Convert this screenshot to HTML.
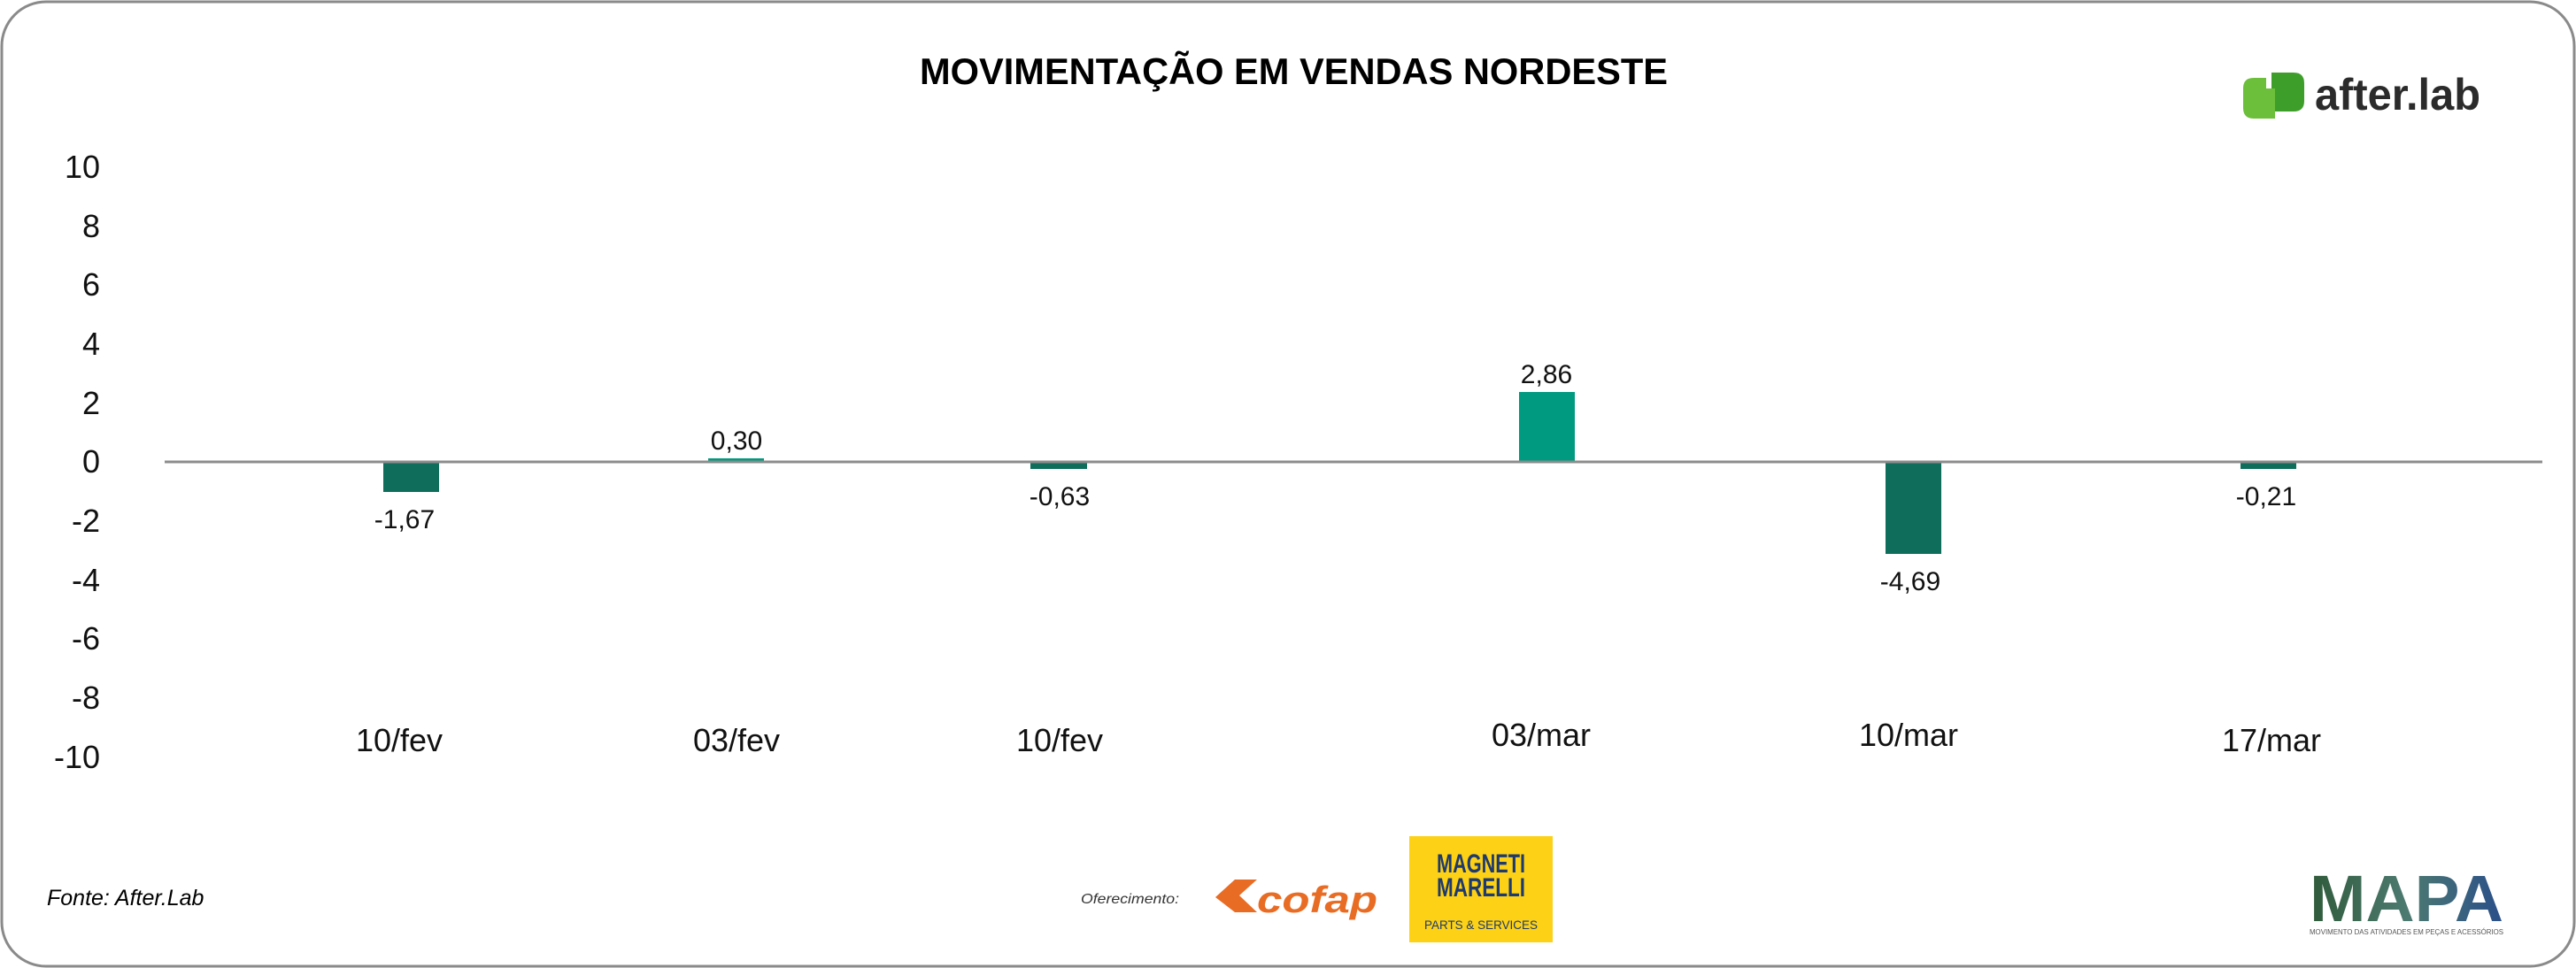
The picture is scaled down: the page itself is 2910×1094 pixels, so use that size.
<!DOCTYPE html>
<html><head><meta charset="utf-8"><style>html,body{margin:0;padding:0;background:#fff}svg{display:block}</style></head>
<body>
<svg width="2910" height="1094" viewBox="0 0 2910 1094" xmlns="http://www.w3.org/2000/svg">
<rect x="2" y="2" width="2906" height="1090" rx="50" ry="50" fill="#fff" stroke="#8a8a8a" stroke-width="3"/>
<text x="1039" y="95" font-family="Liberation Sans, sans-serif" font-weight="bold" font-size="42" textLength="845" lengthAdjust="spacingAndGlyphs" fill="#000">MOVIMENTAÇÃO EM VENDAS NORDESTE</text>
<!-- after.lab logo -->
<g>
<path d="M2534 100 q0 -12 12 -12 h14 v46 h-14 q-12 0 -12 -12z" fill="#6cbf3a"/>
<path d="M2566 82 h25 q12 0 12 12 v20 q0 12 -12 12 h-25z" fill="#3e9e2a"/>
<path d="M2560 100 h10 v34 h-10z" fill="#6cbf3a"/>
<text x="2615" y="124" font-family="Liberation Sans, sans-serif" font-weight="bold" font-size="50" textLength="187" lengthAdjust="spacingAndGlyphs" fill="#2b2b2b">after.lab</text>
</g>
<!-- y ticks -->
<g font-family="Liberation Sans Narrow, Liberation Sans, sans-serif" font-size="36" fill="#111" text-anchor="end">
<text x="113" y="201">10</text>
<text x="113" y="268">8</text>
<text x="113" y="334">6</text>
<text x="113" y="401">4</text>
<text x="113" y="468">2</text>
<text x="113" y="534">0</text>
<text x="113" y="601">-2</text>
<text x="113" y="668">-4</text>
<text x="113" y="734">-6</text>
<text x="113" y="801">-8</text>
<text x="113" y="868">-10</text>
</g>
<!-- bars -->
<rect x="433" y="522" width="63" height="34" fill="#0e6e5b"/>
<rect x="800" y="518" width="63" height="4" fill="#009a80"/>
<rect x="1164" y="522" width="64" height="8" fill="#0e6e5b"/>
<rect x="1716" y="443" width="63" height="79" fill="#009a80"/>
<rect x="2130" y="522" width="63" height="104" fill="#0e6e5b"/>
<rect x="2531" y="522" width="63" height="8" fill="#0e6e5b"/>
<line x1="186" y1="522" x2="2872" y2="522" stroke="#8c8c8c" stroke-width="3"/>
<!-- value labels -->
<g font-family="Liberation Sans Narrow, Liberation Sans, sans-serif" font-size="30" fill="#111" text-anchor="middle">
<text x="457" y="597">-1,67</text>
<text x="832" y="508">0,30</text>
<text x="1197" y="571">-0,63</text>
<text x="1747" y="433">2,86</text>
<text x="2158" y="667">-4,69</text>
<text x="2560" y="571">-0,21</text>
</g>
<!-- x labels -->
<g font-family="Liberation Sans Narrow, Liberation Sans, sans-serif" font-size="36" fill="#111" text-anchor="middle">
<text x="451" y="849">10/fev</text>
<text x="832" y="849">03/fev</text>
<text x="1197" y="849">10/fev</text>
<text x="1741" y="843">03/mar</text>
<text x="2156" y="843">10/mar</text>
<text x="2566" y="849">17/mar</text>
</g>
<text x="53" y="1023" font-family="Liberation Sans, sans-serif" font-style="italic" font-size="25" fill="#000">Fonte: After.Lab</text>
<text x="1221" y="1021" font-family="Liberation Sans, sans-serif" font-style="italic" font-size="16" fill="#333" textLength="111" lengthAdjust="spacingAndGlyphs">Oferecimento:</text>
<!-- cofap -->
<g fill="#e86c24">
<polygon points="1373,1014 1395,994 1420,994 1400,1012 1420,1031 1395,1031"/>
<text x="1420" y="1031" font-family="Liberation Sans, sans-serif" font-weight="bold" font-style="italic" font-size="42" textLength="136" lengthAdjust="spacingAndGlyphs">cofap</text>
</g>
<!-- magneti marelli -->
<rect x="1592" y="945" width="162" height="120" fill="#fcd116"/>
<g font-family="Liberation Sans Narrow, Liberation Sans, sans-serif" font-weight="bold" fill="#1f3a6e" text-anchor="middle">
<text x="1673" y="986" font-size="30" textLength="100" lengthAdjust="spacingAndGlyphs">MAGNETI</text>
<text x="1673" y="1013" font-size="30" textLength="100" lengthAdjust="spacingAndGlyphs">MARELLI</text>
<text x="1673" y="1050" font-size="14" font-weight="normal" textLength="128" lengthAdjust="spacingAndGlyphs">PARTS &amp; SERVICES</text>
</g>
<!-- MAPA -->
<defs><linearGradient id="mg" x1="0" y1="0" x2="1" y2="0"><stop offset="0" stop-color="#2f5a3a"/><stop offset="0.5" stop-color="#4d7a70"/><stop offset="1" stop-color="#2a4f8a"/></linearGradient></defs>
<text x="2609" y="1041" font-family="Liberation Sans, sans-serif" font-weight="bold" font-size="74" textLength="219" lengthAdjust="spacingAndGlyphs" fill="url(#mg)">MAPA</text>
<text x="2609" y="1056" font-family="Liberation Sans, sans-serif" font-size="8" textLength="219" lengthAdjust="spacingAndGlyphs" fill="#555">MOVIMENTO DAS ATIVIDADES EM PEÇAS E ACESSÓRIOS</text>
</svg>
</body></html>
